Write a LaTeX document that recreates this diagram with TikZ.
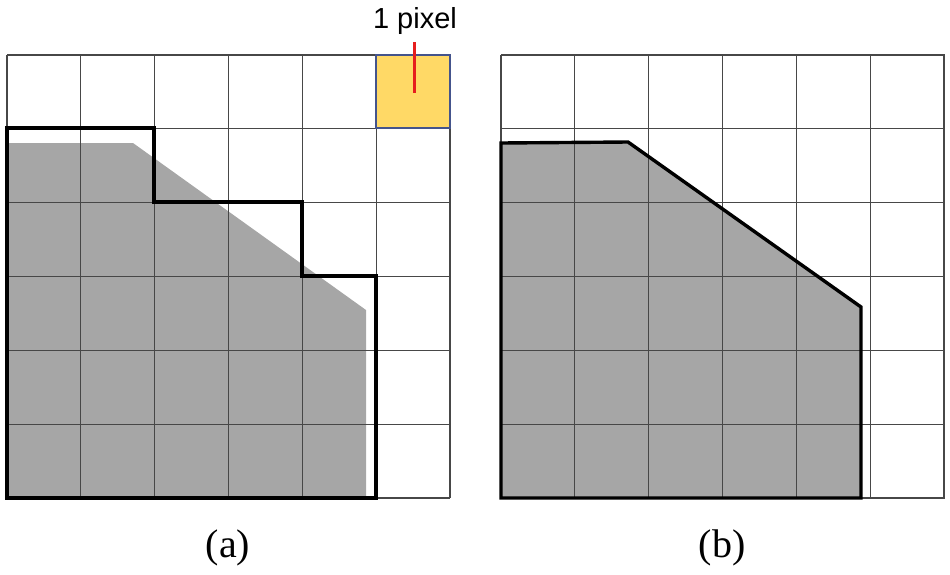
\documentclass[tikz,border=0pt]{standalone}
\usepackage{fontspec}
\setmainfont{Liberation Serif}
\newfontfamily\labelsans{Liberation Sans}
\begin{document}
\begin{tikzpicture}[x=1pt,y=-1pt,
  gridline/.style={draw=black!72,line width=1.2pt},
  thickline/.style={draw=black,line width=3.4pt,line join=miter},
  shade/.style={fill=black!35}]
\useasboundingbox (0,0) rectangle (950,574);
% (a) shaded area
\fill[shade] (9,143) -- (133,143) -- (366,310) -- (366,496) -- (9,496) -- cycle;
% yellow pixel
\fill[fill={rgb,255:red,255;green,217;blue,102}] (376,55) rectangle (450,128);
% grid (a)
\foreach \i in {0,...,6}{
  \draw[gridline] ({7+\i*73.83},55) -- ({7+\i*73.83},498);
  \draw[gridline] (7,{55+\i*73.83}) -- (450,{55+\i*73.83});
}
\draw[draw={rgb,255:red,68;green,84;blue,140},line width=1.2pt] (376,55) rectangle (450,128);
% staircase outline
\draw[thickline] (7,128) -- (154,128) -- (154,202) -- (302,202) -- (302,276) -- (376,276) -- (376,498) -- (7,498) -- cycle;
% red marker and label
\node[font=\labelsans\fontsize{29}{33}\selectfont,anchor=base] (lbl) at (415,28) {1 pixel};
\coordinate (rtop) at (414,42);
\coordinate (rbot) at (414,93);
\draw[draw={rgb,255:red,230;green,30;blue,30},line width=3pt] (rtop) -- (rbot);
% (b) shaded area
\fill[shade] (501,143) -- (628,142) -- (861,307) -- (861,498) -- (501,498) -- cycle;
% grid (b)
\foreach \i in {0,...,6}{
  \draw[gridline] ({501+\i*73.83},55) -- ({501+\i*73.83},498);
  \draw[gridline] (501,{55+\i*73.83}) -- (945,{55+\i*73.83});
}
\draw[thickline] (501,143) -- (628,142) -- (861,307) -- (861,498) -- (501,498) -- cycle;
% captions
\node[font=\fontsize{40}{46}\selectfont] (capa) at (228,548) {(a)};
\node[font=\fontsize{40}{46}\selectfont] (capb) at (722,548) {(b)};
\end{tikzpicture}
\end{document}
